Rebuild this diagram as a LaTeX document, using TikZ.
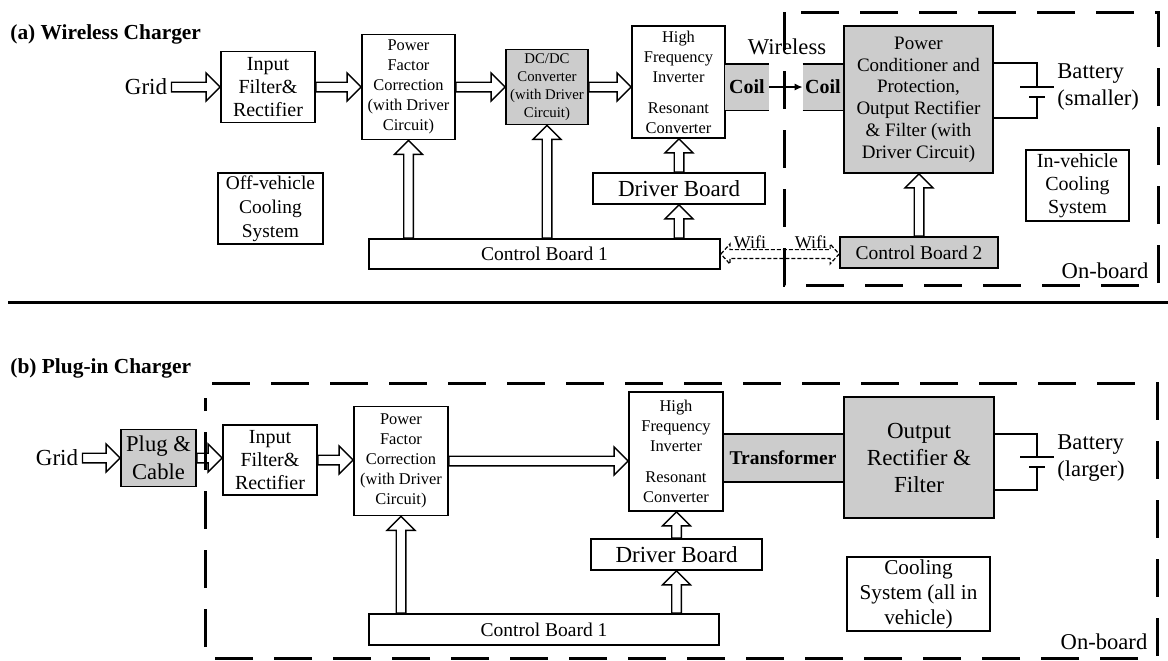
\documentclass[tikz,border=0pt]{standalone}
\usepackage{fontspec}
\setmainfont{Liberation Serif}
\usetikzlibrary{arrows.meta,calc}

\newcommand{\fsz}[2]{\fontsize{#1}{#2}\selectfont}

\tikzset{
  blk/.style={draw, line width=0.9pt, align=center, inner sep=0pt},
  shd/.style={blk, fill=black!20},
  lead/.style={fill=black!20, inner sep=0pt},
  wire/.style={line width=0.9pt},
  boardline/.style={line width=1.5pt, dash pattern=on 19pt off 10.5pt},
  hollow/.style={line width=0.7pt, to path={
    ($(\tikztotarget)!7pt!(\tikztostart)$) coordinate (hb)
    ($(\tikztostart)!2.4pt!90:(\tikztotarget)$)
    -- ($(hb)!2.4pt!90:(\tikztotarget)$)
    -- ($(hb)!7pt!90:(\tikztotarget)$)
    -- (\tikztotarget)
    -- ($(hb)!7pt!-90:(\tikztotarget)$)
    -- ($(hb)!2.4pt!-90:(\tikztotarget)$)
    -- ($(\tikztostart)!2.4pt!-90:(\tikztotarget)$)
    -- cycle}},
  wifi/.style={line width=0.6pt, dash pattern=on 2pt off 1pt, to path={
    ($(\tikztostart)!4.5pt!(\tikztotarget)$) coordinate (ha)
    ($(\tikztotarget)!4.5pt!(\tikztostart)$) coordinate (hb)
    (\tikztostart)
    -- ($(ha)!5pt!90:(\tikztotarget)$)
    -- ($(ha)!2.2pt!90:(\tikztotarget)$)
    -- ($(hb)!2.2pt!90:(\tikztotarget)$)
    -- ($(hb)!5pt!90:(\tikztotarget)$)
    -- (\tikztotarget)
    -- ($(hb)!5pt!-90:(\tikztotarget)$)
    -- ($(hb)!2.2pt!-90:(\tikztotarget)$)
    -- ($(ha)!2.2pt!-90:(\tikztotarget)$)
    -- ($(ha)!5pt!-90:(\tikztotarget)$)
    -- cycle}}
}

\begin{document}
\begin{tikzpicture}[x=1pt, y=-1pt]
    \useasboundingbox (0,0) rectangle (584,330);

    % (a) wireless charger
    \node[anchor=west, inner sep=0pt, font=\fsz{10.7}{13}\bfseries] (ttlA) at (5,17) {(a) Wireless Charger};
    \node[inner sep=2pt, font=\fsz{11.5}{13}] (gridA) at (73,43.5) {Grid};
    \node[blk, minimum width=47pt, minimum height=35.5pt, font=\fsz{10}{11.5}] (ifrA) at (134,43.5) {Input\\Filter\&\\Rectifier};
    \node[blk, minimum width=52.5pt, minimum height=35.5pt, font=\fsz{9.7}{12}] (coolA) at (135.25,104.25) {Off-vehicle\\Cooling\\System};
    \node[blk, minimum width=46.5pt, minimum height=52.5pt, font=\fsz{8.2}{10}] (pfcA) at (204.25,43.5) {Power\\Factor\\Correction\\(with Driver\\Circuit)};
    \node[shd, minimum width=41pt, minimum height=37.5pt, font=\fsz{7.4}{9}] (dcdcA) at (273.5,43.5) {DC/DC\\Converter\\(with Driver\\Circuit)};
    \node[blk, minimum width=46.5pt, minimum height=56pt, font=\fsz{8.2}{10}] (hfA) at (339.25,41) {High\\Frequency\\Inverter\\[5.5pt]Resonant\\Converter};
    \node[blk, minimum width=86pt, minimum height=15.5pt, font=\fsz{11.5}{13}] (drvA) at (339.5,94.25) {Driver Board};
    \node[blk, minimum width=175.5pt, minimum height=15pt, font=\fsz{9.75}{12}] (cb1A) at (272.25,127) {Control Board 1};
    \node[lead, minimum width=22pt, minimum height=23pt, font=\fsz{10}{12}\bfseries] (coilA1) at (373.5,43.5) {Coil};
    \node[lead, minimum width=20pt, minimum height=23pt, font=\fsz{10}{12}\bfseries] (coilA2) at (411.5,43.5) {Coil};
    \node[font=\fsz{11.3}{13}] (wlsA) at (393.5,23.5) {Wireless};
    \node[shd, minimum width=74.5pt, minimum height=73.5pt, font=\fsz{9.5}{10.9}] (pcA) at (459.25,49.75) {Power\\Conditioner and\\Protection,\\Output Rectifier\\\& Filter (with\\Driver Circuit)};
    \node[anchor=west, inner sep=0pt, align=left, font=\fsz{11.3}{13.5}] (batA) at (528.5,43.5) {Battery\\(smaller)};
    \node[blk, minimum width=51.5pt, minimum height=35.5pt, font=\fsz{10}{11.5}] (ivcA) at (538.75,92.75) {In-vehicle\\Cooling\\System};
    \node[shd, minimum width=79pt, minimum height=15.5pt, font=\fsz{9.75}{12}] (cb2A) at (459.5,126.25) {Control Board 2};
    \node[font=\fsz{9}{10}] (wifiL) at (375,121) {Wifi};
    \node[font=\fsz{9}{10}] (wifiR) at (405.5,121) {Wifi};
    \node[font=\fsz{11.3}{13}] (obA) at (552.5,135.5) {On-board};

    \draw[hollow] (gridA.east) to (ifrA.west);
    \draw[hollow] (ifrA.east) to (pfcA.west);
    \draw[hollow] (pfcA.east) to (dcdcA.west);
    \draw[hollow] (dcdcA.east) to (hfA.west |- dcdcA.east);
    \draw[hollow] (pfcA.south |- cb1A.north) to (pfcA.south);
    \draw[hollow] (dcdcA.south |- cb1A.north) to (dcdcA.south);
    \draw[hollow] (drvA.south |- cb1A.north) to (drvA.south);
    \draw[hollow] (drvA.north) to (drvA.north |- hfA.south);
    \draw[hollow] (cb2A.north) to (cb2A.north |- pcA.south);
    \draw[wifi] (cb1A.east) to (cb2A.west |- cb1A.east);
    \draw[wire] (coilA1.north west) -- (coilA1.north east) (coilA1.south west) -- (coilA1.south east);
    \draw[wire] (coilA2.north west) -- (coilA2.north east) (coilA2.south west) -- (coilA2.south east);
    \draw[-{Latex[length=4pt,width=3.5pt]}, line width=0.6pt] (coilA1.east) -- (coilA2.west);

    % battery (a)
    \draw[wire] (pcA.east |- 0,31.5) -| (518.5,43.5);
    \draw[wire] (510,43.5) -- (527,43.5);
    \draw[wire] (514.5,48.5) -- (522.5,48.5);
    \draw[wire] (518.5,48.5) |- (pcA.east |- 0,59);

    \draw[boardline] (392,6) rectangle (579,142.5);

    \draw[line width=1.5pt] (4,151) -- (584,151);

    % (b) plug-in charger
    \node[anchor=west, inner sep=0pt, font=\fsz{10.7}{13}\bfseries] (ttlB) at (5,184) {(b) Plug-in Charger};
    \node[inner sep=2pt, font=\fsz{11.5}{13}] (gridB) at (28.5,229) {Grid};
    \node[shd, minimum width=37.5pt, minimum height=28.5pt, font=\fsz{11.3}{14}] (plugB) at (79.25,229) {Plug \&\\Cable};
    \node[blk, minimum width=47pt, minimum height=35pt, font=\fsz{10}{11.5}] (ifrB) at (135,230) {Input\\Filter\&\\Rectifier};
    \node[blk, minimum width=47pt, minimum height=54.5pt, font=\fsz{8.2}{10}] (pfcB) at (200.5,230.5) {Power\\Factor\\Correction\\(with Driver\\Circuit)};
    \node[blk, minimum width=47pt, minimum height=59.5pt, font=\fsz{8.2}{10}] (hfB) at (338,225.75) {High\\Frequency\\Inverter\\[5.5pt]Resonant\\Converter};
    \node[lead, minimum width=59.5pt, minimum height=23.5pt, font=\fsz{9.75}{12}\bfseries] (trB) at (391.5,229) {Transformer};
    \node[shd, minimum width=75pt, minimum height=60.5pt, font=\fsz{11.5}{13.5}] (orfB) at (459.5,228.75) {Output\\Rectifier \&\\Filter};
    \node[anchor=west, inner sep=0pt, align=left, font=\fsz{11.3}{13.5}] (batB) at (528.5,229) {Battery\\(larger)};
    \node[blk, minimum width=71.5pt, minimum height=37pt, font=\fsz{10.6}{12.5}] (coolB) at (459.25,297) {Cooling\\System (all in\\vehicle)};
    \node[blk, minimum width=85.5pt, minimum height=15.5pt, font=\fsz{11.5}{13}] (drvB) at (338.25,277.25) {Driver Board};
    \node[blk, minimum width=175pt, minimum height=15.5pt, font=\fsz{9.75}{12}] (cb1B) at (272,314.75) {Control Board 1};
    \node[font=\fsz{11.3}{13}] (obB) at (552,321) {On-board};

    \draw[hollow] (gridB.east) to (plugB.west);
    \draw[hollow] (plugB.east) to (ifrB.west |- plugB.east);
    \draw[hollow] (ifrB.east) to (pfcB.west |- ifrB.east);
    \draw[hollow] (pfcB.east) to (hfB.west |- pfcB.east);
    \draw[hollow] (pfcB.south |- cb1B.north) to (pfcB.south);
    \draw[hollow] (drvB.south |- cb1B.north) to (drvB.south);
    \draw[hollow] (drvB.north) to (drvB.north |- hfB.south);
    \draw[wire] (trB.north west) -- (trB.north east) (trB.south west) -- (trB.south east);

    % battery (b)
    \draw[wire] (orfB.east |- 0,217) -| (518.5,228.5);
    \draw[wire] (510,228.5) -- (527,228.5);
    \draw[wire] (514.5,233.5) -- (522.5,233.5);
    \draw[wire] (518.5,233.5) |- (orfB.east |- 0,245);

    \draw[boardline] (106,191.5) -| (578.5,329) -| (102.5,199);
\end{tikzpicture}
\end{document}
